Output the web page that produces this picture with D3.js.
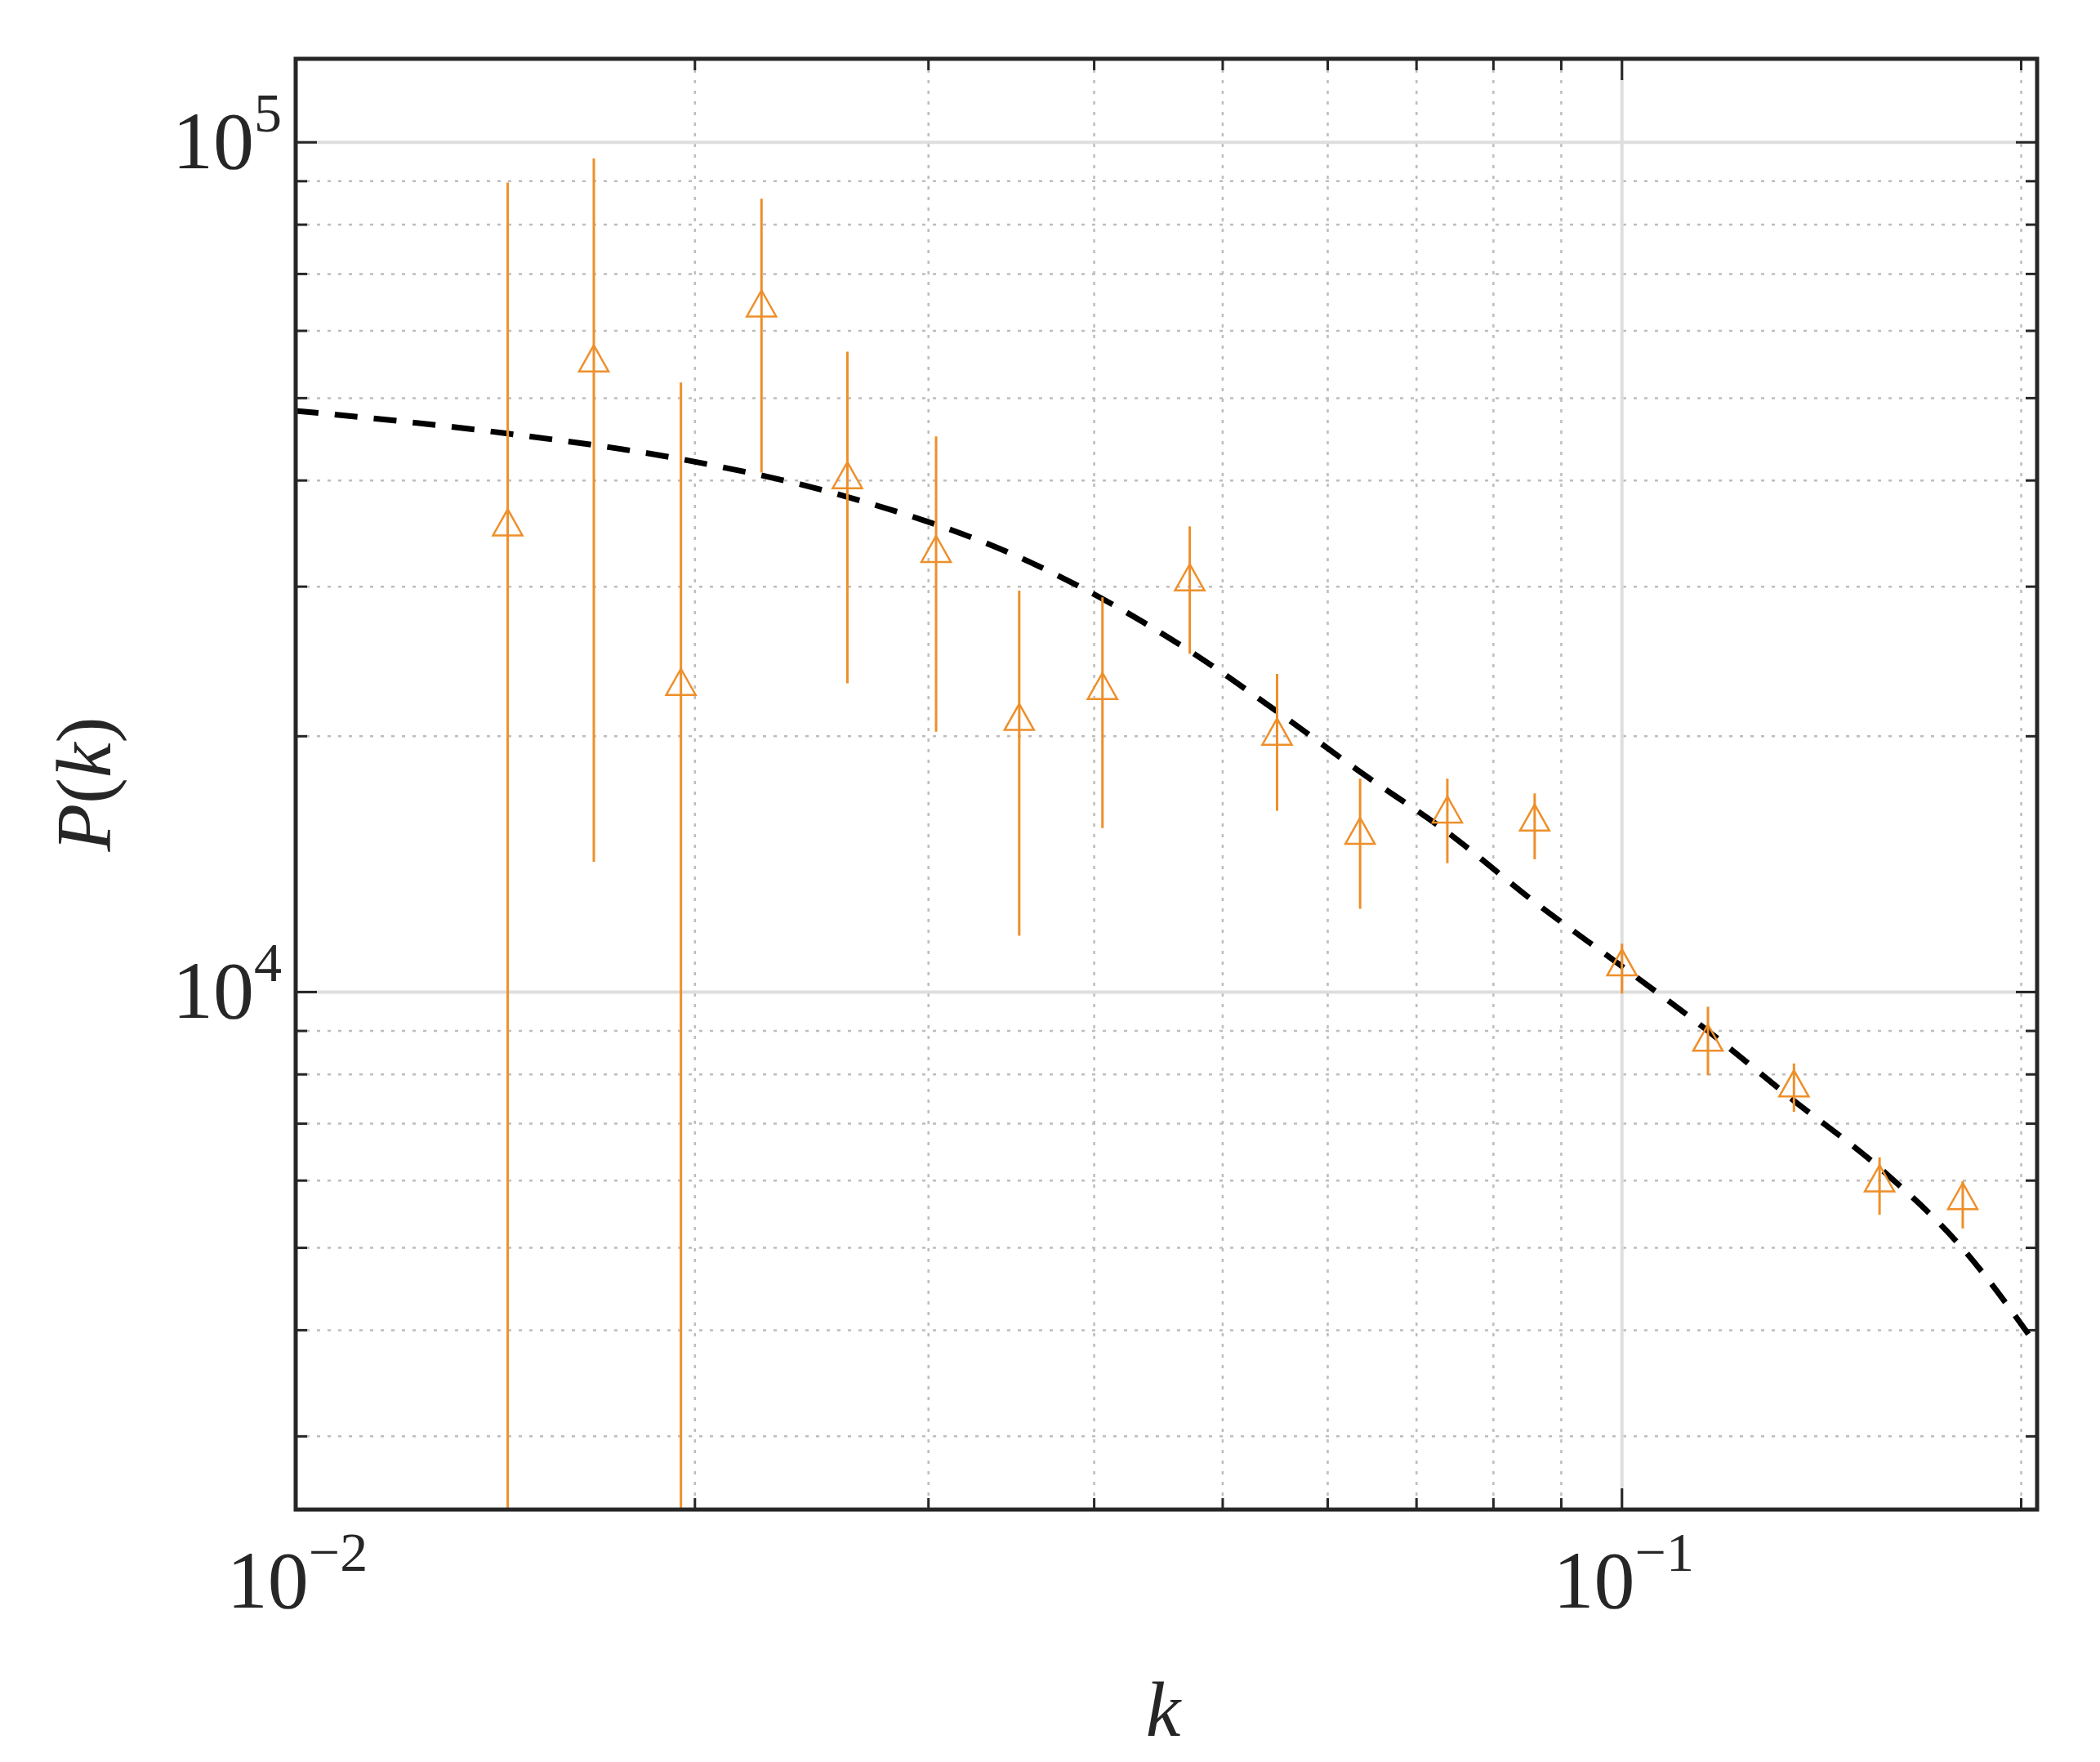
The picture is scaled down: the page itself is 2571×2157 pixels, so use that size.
<!DOCTYPE html><html><head><meta charset="utf-8">
<script src="https://cdn.jsdelivr.net/npm/d3@7/dist/d3.min.js"></script>
<style>body{margin:0;background:#fff}</style></head><body>
<script>
const kVals=[0.01445,0.01678,0.01952,0.02245,0.02606,0.03040,0.03512,0.04058,0.04722,0.05495,0.06347,0.07385,0.08594,0.1,0.1161,0.1348,0.1564,0.1807];
const pVals=[35320,55080,22920,63910,40130,32860,20850,22670,30430,20030,15310,16220,15870,10720,8740,7720,5970,5690];
const pUpper=[89650,95720,52150,85830,56710,45080,29680,29140,35320,23680,17830,17830,17130,11400,9610,8240,6390,5990];
const pLower=[500,14230,500,40870,23090,20250,11650,15590,25010,16340,12530,14180,14330,9960,7980,7230,5470,5270];
const modelK=[0.01,0.01445,0.01952,0.02606,0.03512,0.04722,0.05495,0.06347,0.07385,0.08594,0.1,0.1161,0.1348,0.1564,0.1807,0.2056];
const modelP=[48310,45420,42380,38260,32490,25200,21390,18160,15420,12760,10720,9000,7450,6210,4990,3830];
const xTickVals=[0.01,0.1];const xTickExp=["−2","−1"];
const yTickVals=[1e4,1e5];const yTickExp=["4","5"];

const W=2571,H=2157,L=362,R=2494,T=72,B=1848;
const x=d3.scaleLog().domain([0.01,0.2056]).range([L,R]);
const y=d3.scaleLog().domain([2460,125400]).range([B,T]);
const svg=d3.select("body").append("svg").attr("width",W).attr("height",H);
const defs=svg.append("defs");
defs.append("clipPath").attr("id","c").append("rect").attr("x",L).attr("y",T).attr("width",R-L).attr("height",B-T);
const g=svg.append("g");
const xMinor=[],yMinor=[];
[0.01].forEach(d=>{for(let i=2;i<10;i++)xMinor.push(d*i);});xMinor.push(0.2);
[1000,10000].forEach(d=>{for(let i=2;i<10;i++){const v=d*i;if(v>=2460)yMinor.push(v);}});
g.selectAll(".xm").data(xMinor).join("line").attr("x1",d=>x(d)).attr("x2",d=>x(d)).attr("y1",T).attr("y2",B).attr("stroke","#bdbdbd").attr("stroke-width",2.5).attr("stroke-dasharray","4 9");
g.selectAll(".ym").data(yMinor).join("line").attr("y1",d=>y(d)).attr("y2",d=>y(d)).attr("x1",L).attr("x2",R).attr("stroke","#bdbdbd").attr("stroke-width",2.5).attr("stroke-dasharray","4 9");
g.selectAll(".xM").data(xTickVals).join("line").attr("x1",d=>x(d)).attr("x2",d=>x(d)).attr("y1",T).attr("y2",B).attr("stroke","#dedede").attr("stroke-width",4);
g.selectAll(".yM").data(yTickVals).join("line").attr("y1",d=>y(d)).attr("y2",d=>y(d)).attr("x1",L).attr("x2",R).attr("stroke","#dedede").attr("stroke-width",4);
const tc="#262626";
function tk(vals,len){
 vals.forEach(v=>{const X=x(v);g.append("line").attr("x1",X).attr("x2",X).attr("y1",B).attr("y2",B-len).attr("stroke",tc).attr("stroke-width",3);
 g.append("line").attr("x1",X).attr("x2",X).attr("y1",T).attr("y2",T+len).attr("stroke",tc).attr("stroke-width",3);});
}
function tky(vals,len){
 vals.forEach(v=>{const Y=y(v);g.append("line").attr("y1",Y).attr("y2",Y).attr("x1",L).attr("x2",L+len).attr("stroke",tc).attr("stroke-width",3);
 g.append("line").attr("y1",Y).attr("y2",Y).attr("x1",R).attr("x2",R-len).attr("stroke",tc).attr("stroke-width",3);});
}
tk(xMinor,14);tk(xTickVals,26);tky(yMinor,14);tky(yTickVals,26);
const orange="#ee8f2a";
const cg=svg.append("g").attr("clip-path","url(#c)");
cg.append("path").datum(modelK.map((k,i)=>[k,modelP[i]])).attr("d",d3.line().x(d=>x(d[0])).y(d=>y(d[1])).curve(d3.curveMonotoneX))
 .attr("fill","none").attr("stroke","#000").attr("stroke-width",7).attr("stroke-dasharray","28 20");
cg.selectAll(".eb").data(kVals).join("line").attr("x1",d=>x(d)).attr("x2",d=>x(d)).attr("y1",(d,i)=>y(pUpper[i])).attr("y2",(d,i)=>y(pLower[i])).attr("stroke",orange).attr("stroke-width",3);
cg.selectAll(".tr").data(kVals).join("path").attr("d",(d,i)=>{const X=x(d),Y=y(pVals[i]);return `M${X},${Y-21}L${X+18},${Y+11}L${X-18},${Y+11}Z`;})
 .attr("fill","none").attr("stroke",orange).attr("stroke-width",2.5);
svg.append("rect").attr("x",L).attr("y",T).attr("width",R-L).attr("height",B-T).attr("fill","none").attr("stroke",tc).attr("stroke-width",5);
const font="'Liberation Serif','DejaVu Serif',serif";
xTickVals.forEach((v,i)=>{const t=svg.append("text").attr("x",x(v)+2).attr("y",1968).attr("text-anchor","middle").attr("font-family",font).attr("font-size",100).attr("fill",tc);
 t.append("tspan").text("10");t.append("tspan").attr("dy",-45).attr("font-size",68).text(xTickExp[i]);});
yTickVals.forEach((v,i)=>{const t=svg.append("text").attr("x",345).attr("y",y(v)+32).attr("text-anchor","end").attr("font-family",font).attr("font-size",100).attr("fill",tc);
 t.append("tspan").text("10");t.append("tspan").attr("dy",-45).attr("font-size",68).text(yTickExp[i]);});
svg.append("text").attr("x",1424).attr("y",2125).attr("text-anchor","middle").attr("font-family",font).attr("font-style","italic").attr("font-size",96).attr("fill",tc).text("k");
svg.append("text").attr("transform","translate(135,960) rotate(-90)").attr("text-anchor","middle").attr("font-family",font).attr("font-style","italic").attr("font-size",96).attr("fill",tc)
 .html('P<tspan font-style="normal">(</tspan>k<tspan font-style="normal">)</tspan>');
</script></body></html>
